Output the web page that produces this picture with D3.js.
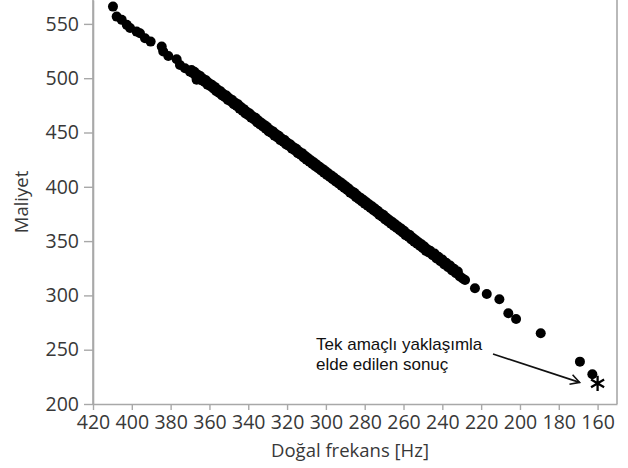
<!DOCTYPE html>
<html>
<head>
<meta charset="utf-8">
<script src="https://cdn.jsdelivr.net/npm/d3@7"></script>
<style>
  html, body { margin: 0; padding: 0; background: #fff; }
  svg { display: block; }
</style>
</head>
<body>
<svg id="chart" width="628" height="468"></svg>
<script>
// Pareto front: [natural frequency (Hz), cost]
const paretoPoints = [
  [409.7, 565.9], [407.8, 556.7], [405.2, 553.7], [402.6, 549.1], [400.9, 546.3],
  [397.5, 542.9], [395.8, 541.4], [393.2, 536.8], [390.3, 533.7], [384.6, 529.1],
  [383.8, 524.5], [381.2, 520.5], [376.9, 517.5], [375.2, 512.2], [372.6, 509.2],
  [366.6, 498.6],
  [370.0, 506.0], [368.5, 504.5], [367.0, 502.0], [365.5, 500.5], [364.0, 498.0],
  [362.5, 496.5], [361.0, 494.0], [359.5, 492.5], [358.0, 490.5], [356.5, 488.0],
  [355.0, 486.5], [353.5, 484.0], [352.0, 482.5], [350.5, 480.0], [349.0, 478.5],
  [347.5, 476.0], [346.0, 474.5], [344.5, 472.0], [343.0, 470.0], [341.5, 467.5],
  [340.0, 466.0], [338.5, 463.5], [337.0, 462.0], [335.5, 459.5], [334.0, 457.5],
  [332.5, 455.5], [331.0, 453.5], [329.5, 451.0], [328.0, 449.5], [326.5, 447.0],
  [325.0, 445.5], [323.5, 443.0], [322.0, 441.5], [320.5, 439.0], [319.0, 437.5],
  [317.5, 435.0], [316.0, 433.5], [314.5, 431.0], [313.0, 429.5], [311.5, 427.0],
  [310.0, 425.0], [308.5, 423.0], [307.0, 421.0], [305.5, 419.0], [304.0, 417.0],
  [302.5, 415.0], [301.0, 413.0], [299.5, 411.0], [298.0, 409.0], [296.5, 407.0],
  [295.0, 405.0], [293.5, 403.0], [292.0, 401.0], [290.5, 399.0], [289.0, 397.0],
  [287.5, 394.5], [286.0, 393.0], [284.5, 390.5], [283.0, 388.5], [281.5, 386.5],
  [280.0, 384.5], [278.5, 382.5], [277.0, 380.5], [275.5, 378.5], [274.0, 376.5],
  [272.5, 374.0], [271.0, 372.5], [269.5, 370.0], [268.0, 368.0], [266.5, 366.0],
  [265.0, 364.0], [263.5, 362.0], [262.0, 360.0], [260.5, 358.0], [259.0, 355.5],
  [257.5, 354.0], [256.0, 351.5], [254.5, 349.5], [253.0, 347.5], [251.5, 345.5],
  [250.0, 343.5], [248.5, 341.0], [247.0, 339.5], [245.0, 337.0], [243.0, 334.0],
  [241.0, 331.5], [239.0, 328.5], [237.0, 326.0], [235.0, 323.0], [233.0, 320.5],
  [231.0, 317.5], [229.5, 315.5], [228.3, 314.2],
  [369.25, 507.5], [367.75, 506.0], [366.25, 503.5], [364.75, 502.0], [363.25, 499.5],
  [361.75, 498.0], [360.25, 495.5], [358.75, 494.0], [357.25, 492.0], [355.75, 489.5],
  [354.25, 488.0], [352.75, 485.5], [351.25, 484.0], [349.75, 481.5], [348.25, 480.0],
  [346.75, 477.5], [345.25, 476.0], [343.75, 473.5], [342.25, 471.5], [340.75, 469.0],
  [339.25, 467.5], [337.75, 465.0], [336.25, 463.5], [334.75, 461.0], [333.25, 459.0],
  [331.75, 457.0], [330.25, 455.0], [328.75, 452.5], [327.25, 451.0], [325.75, 448.5],
  [324.25, 447.0], [322.75, 444.5], [321.25, 443.0], [319.75, 440.5], [318.25, 439.0],
  [316.75, 436.5], [315.25, 435.0], [313.75, 432.5], [312.25, 431.0], [310.75, 428.5],
  [309.25, 426.5], [307.75, 424.5], [306.25, 422.5], [304.75, 420.5], [303.25, 418.5],
  [301.75, 416.5], [300.25, 414.5], [298.75, 412.5], [297.25, 410.5], [295.75, 408.5],
  [294.25, 406.5], [292.75, 404.5], [291.25, 402.5], [289.75, 400.5], [288.25, 398.5],
  [286.75, 396.0], [285.25, 394.5], [283.75, 392.0], [282.25, 390.0], [280.75, 388.0],
  [279.25, 386.0], [277.75, 384.0], [276.25, 382.0], [274.75, 380.0], [273.25, 378.0],
  [271.75, 375.5], [270.25, 374.0], [268.75, 371.5], [267.25, 369.5], [265.75, 367.5],
  [264.25, 365.5], [262.75, 363.5], [261.25, 361.5], [259.75, 359.5], [258.25, 357.0],
  [256.75, 355.5], [255.25, 353.0], [253.75, 351.0], [252.25, 349.0], [250.75, 347.0],
  [249.25, 345.0], [247.75, 342.5], [246.25, 341.0], [244.0, 338.5], [242.0, 335.5],
  [240.0, 333.0], [238.0, 330.0], [236.0, 327.5], [234.0, 324.5], [232.0, 322.0],
  [223.2, 306.6], [217.1, 301.3], [210.6, 296.4], [206.0, 283.5], [202.0, 278.3],
  [189.3, 265.1], [169.1, 239.0], [162.7, 227.4]
];

// Result of the single-objective approach
const singleObjective = [160, 219];

const xTicks = [420, 400, 380, 360, 340, 320, 300, 280, 260, 240, 220, 200, 180, 160];
const xMinorTicks = [410, 390, 370, 350, 330, 310, 290, 270, 250, 230, 210, 190, 170, 150];
const yTicks = [200, 250, 300, 350, 400, 450, 500, 550];
const yMinorTicks = [225, 275, 325, 375, 425, 475, 525];

const xTitle = "Doğal frekans [Hz]";
const yTitle = "Maliyet";
const noteLines = ["Tek amaçlı yaklaşımla", "elde edilen sonuç"];

const svg = d3.select("#chart");
const plotLeft = 93, plotRight = 617, plotTop = 0, plotBottom = 404;

const x = d3.scaleLinear().domain([420, 150]).range([plotLeft, plotRight]);
const y = d3.scaleLinear().domain([200, 572]).range([plotBottom, plotTop]);

const axisColor = "#a8a8a8";
const labelFont = "'Open Sans', 'Noto Sans', sans-serif";
const labelColor = "#383838";

// frame (left, right, bottom)
svg.append("line").attr("x1", plotLeft).attr("x2", plotLeft).attr("y1", plotTop).attr("y2", plotBottom)
  .attr("stroke", axisColor).attr("stroke-width", 1.6);
svg.append("line").attr("x1", plotRight).attr("x2", plotRight).attr("y1", plotTop).attr("y2", plotBottom)
  .attr("stroke", axisColor).attr("stroke-width", 1.6);

// x axis
const gx = svg.append("g").attr("transform", `translate(0,${plotBottom})`);
gx.call(d3.axisBottom(x).tickValues(xMinorTicks).tickSize(3).tickFormat(""));
gx.call(d3.axisBottom(x).tickValues(xTicks).tickSize(6).tickSizeOuter(0).tickPadding(5));
gx.selectAll(".domain").attr("stroke", axisColor).attr("stroke-width", 1.6);
gx.selectAll(".tick line").attr("stroke", axisColor).attr("stroke-width", 1.4);
gx.selectAll("text").attr("font-family", labelFont).attr("font-size", 19.5).attr("fill", labelColor);

// y axis
const gy = svg.append("g").attr("transform", `translate(${plotLeft},0)`);
gy.call(d3.axisLeft(y).tickValues(yMinorTicks).tickSize(5).tickFormat(""));
gy.call(d3.axisLeft(y).tickValues(yTicks).tickSize(9).tickSizeOuter(0).tickPadding(5));
gy.selectAll(".domain").attr("stroke", axisColor).attr("stroke-width", 1.6);
gy.selectAll(".tick line").attr("stroke", axisColor).attr("stroke-width", 1.4);
gy.selectAll("text").attr("font-family", labelFont).attr("font-size", 19.5).attr("fill", labelColor);

// axis titles
svg.append("text").attr("x", (plotLeft + plotRight) / 2 - 5).attr("y", 457)
  .attr("text-anchor", "middle").attr("font-family", labelFont).attr("font-size", 18.5)
  .attr("fill", labelColor).text(xTitle);
svg.append("text").attr("transform", `translate(28,${(plotTop + plotBottom) / 2}) rotate(-90)`)
  .attr("text-anchor", "middle").attr("font-family", labelFont).attr("font-size", 18.5)
  .attr("fill", labelColor).text(yTitle);

// plot area
const plot = svg.append("g");
plot.selectAll("circle").data(paretoPoints).join("circle")
  .attr("cx", d => x(d[0])).attr("cy", d => y(d[1])).attr("r", 5).attr("fill", "#000");

// single-objective result marker
plot.append("path")
  .attr("d", d3.symbol(d3.symbolAsterisk, 160)())
  .attr("transform", `translate(${x(singleObjective[0])},${y(singleObjective[1])})`)
  .attr("fill", "none").attr("stroke", "#000").attr("stroke-width", 2.3);

// annotation text
const note = svg.append("text").attr("font-family", "'Liberation Sans', Arial, sans-serif")
  .attr("font-size", 17).attr("fill", "#111");
noteLines.forEach((t, i) => {
  note.append("tspan").attr("x", 316).attr("y", 350 + i * 20).text(t);
});

// annotation arrow
svg.append("defs").append("marker")
  .attr("id", "openArrow").attr("viewBox", "-10 -6 12 12")
  .attr("refX", 0).attr("refY", 0).attr("markerWidth", 12).attr("markerHeight", 12)
  .attr("markerUnits", "userSpaceOnUse").attr("orient", "auto")
  .append("path").attr("d", "M-9,-5L0,0L-9,5").attr("fill", "none")
  .attr("stroke", "#111").attr("stroke-width", 1.6);
svg.append("line")
  .attr("x1", 493).attr("y1", 354)
  .attr("x2", x(singleObjective[0]) - 18).attr("y2", y(singleObjective[1]) - 1)
  .attr("stroke", "#111").attr("stroke-width", 1.6).attr("marker-end", "url(#openArrow)");
</script>
</body>
</html>
